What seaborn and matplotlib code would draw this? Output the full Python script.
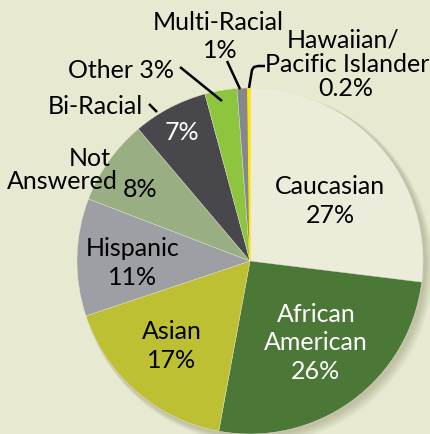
import matplotlib
matplotlib.use("Agg")
import matplotlib.pyplot as plt
import seaborn as sns
from matplotlib.patches import Circle

# ---- data ----
categories = ["Caucasian", "African American", "Asian", "Hispanic", "Not Answered",
              "Bi-Racial", "Other", "Multi-Racial", "Hawaiian/Pacific Islander"]
percents = [27, 26, 17, 11, 8, 7, 3, 1, 0.2]
pct_labels = ["27%", "26%", "17%", "11%", "8%", "7%", "3%", "1%", "0.2%"]

colors = ["#ebecd9", "#4b7737", "#bec033", "#9e9fa5", "#99ae83",
          "#48484c", "#8dc53f", "#86868d", "#ffe800"]

sns.set_style("white")
plt.rcParams['font.family'] = ['Lato', 'DejaVu Sans']

W, H = 430, 435
fig = plt.figure(figsize=(W / 100, H / 100), dpi=100)
bg = "#e7e9d1"
fig.patch.set_facecolor(bg)
ax = fig.add_axes([0, 0, 1, 1])
ax.set_facecolor(bg)
ax.set_xlim(0, W)
ax.set_ylim(0, H)
ax.set_aspect("equal")
ax.axis("off")

cx, cy_img, R = 250, 262, 173
cy = H - cy_img

# soft shadow
for i in range(8):
    ax.add_patch(Circle((cx + 2 + i * 0.6, cy - 2 - i * 0.6), R + 1 + i * 0.4,
                        facecolor="#5a5a30", alpha=0.035, lw=0, zorder=0))

wedges, _ = ax.pie(percents, colors=colors, startangle=90, counterclock=False,
                   center=(cx, cy), radius=R, frame=True,
                   wedgeprops=dict(edgecolor="#e6e8d4", linewidth=0.3))
wedges[-1].set_edgecolor(colors[-1])
wedges[-1].set_linewidth(1.0)
wedges[-1].set_zorder(3)
ax.set_xlim(0, W)
ax.set_ylim(0, H)
ax.axis("off")

FS = 18


def T(x, y, s, color="black", ha="center", fs=FS):
    ax.text(x, H - y, s, color=color, ha=ha, va="center", fontsize=fs,
            linespacing=1.3, zorder=5)


def L(pts):
    xs = [p[0] for p in pts]
    ys = [H - p[1] for p in pts]
    ax.plot(xs, ys, color="black", lw=1.8, zorder=5, solid_capstyle="butt")


T(330, 201, categories[0] + "\n" + pct_labels[0])
T(316, 343, "African\nAmerican\n" + pct_labels[1], color="white")
T(172, 346, categories[2] + "\n" + pct_labels[2])
T(133, 263, categories[3] + "\n" + pct_labels[3])
T(90, 158, "Not")
T(62, 182, "Answered")
T(140, 190, pct_labels[4])
T(95, 106, categories[5])
L([(149, 105), (157, 113)])
T(182, 132, pct_labels[5], color="white")
T(121, 70, categories[6] + " " + pct_labels[6])
L([(180, 68), (222, 102)])
T(218, 22, categories[7])
T(220, 50, pct_labels[7])
L([(227, 62), (240, 90)])
T(343, 40, "Hawaiian/")
T(347, 64, "Pacific Islander")
T(346, 89, pct_labels[8])
L([(249, 89), (252, 71), (254, 68), (258, 67), (265, 67)])

fig.savefig("out.png", dpi=100, facecolor=bg)
